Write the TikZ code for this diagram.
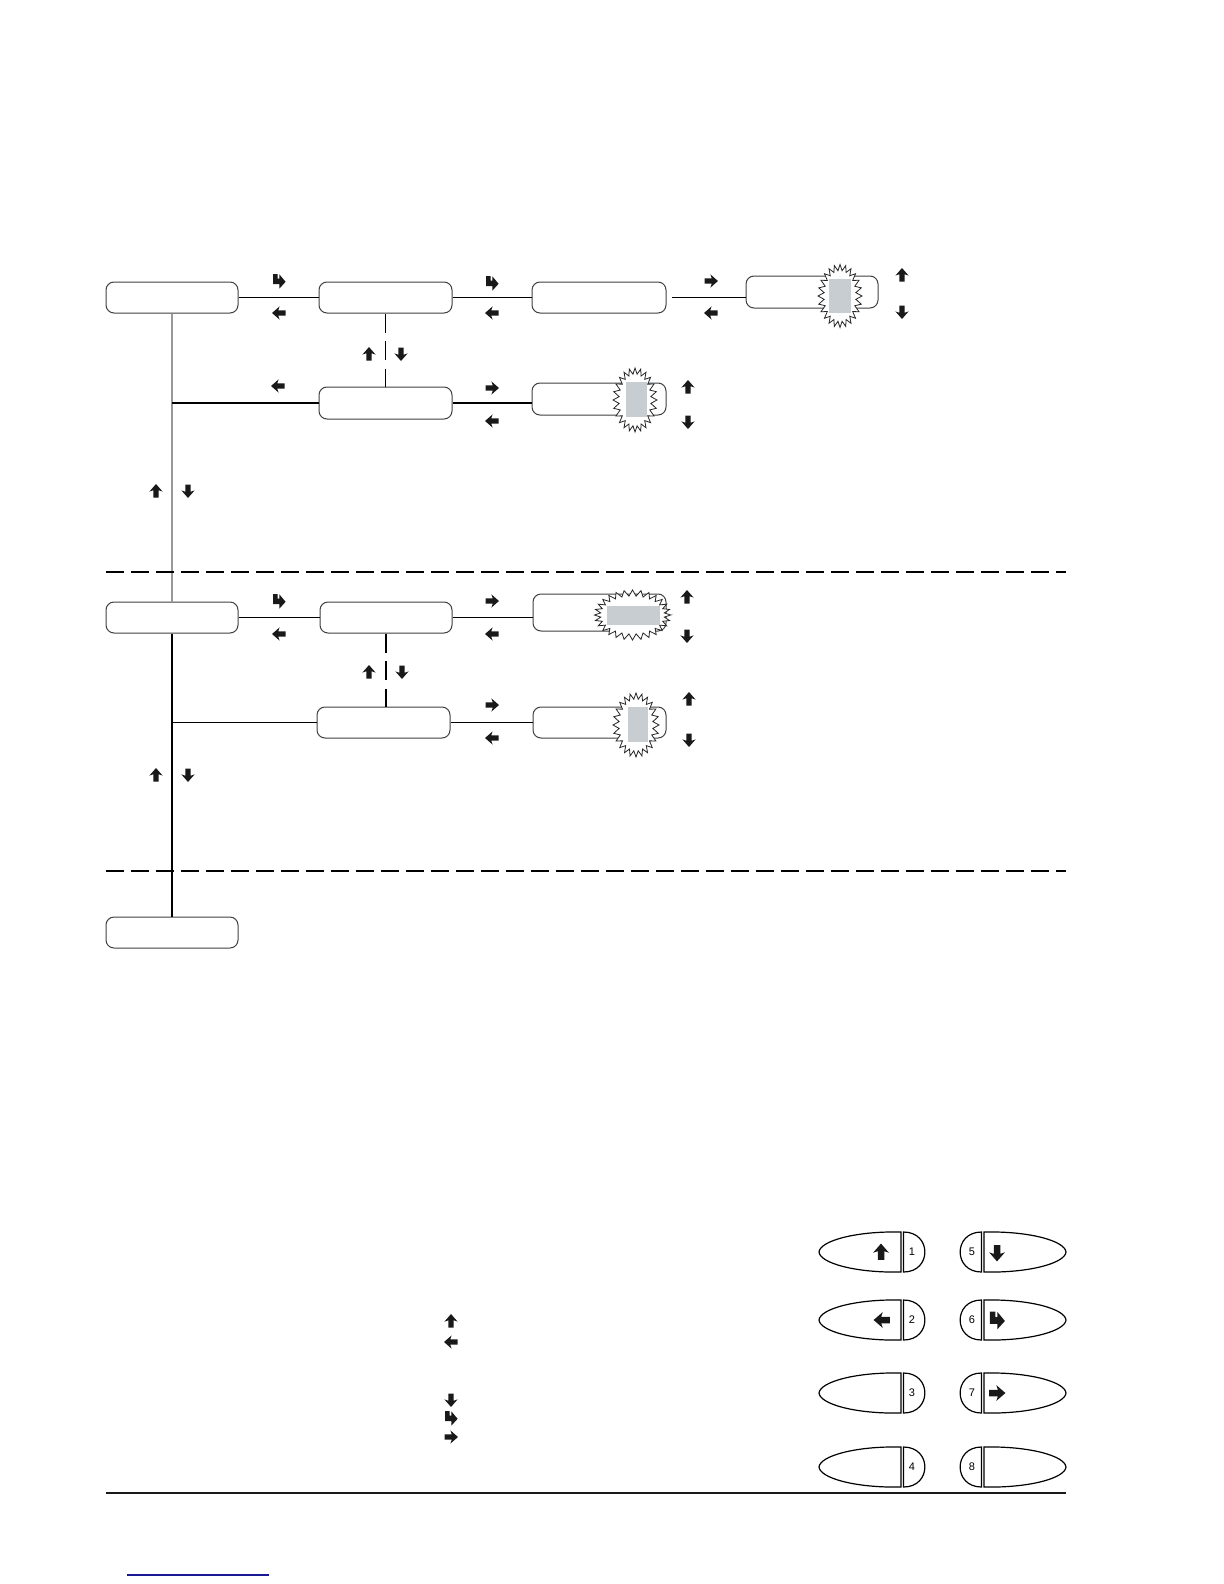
\documentclass[tikz,border=0pt]{standalone}
\usepackage{fontspec}
\setmainfont{Liberation Sans}
\usetikzlibrary{calc}
\definecolor{shade}{RGB}{200,205,210}
\definecolor{linkblue}{RGB}{25,25,150}
\newcommand\mkburst[5]{%
  \filldraw[burstline] ({#1+#3},#2) \foreach \k in {1,...,#5}{ -- ({#1+(#3-6*mod(\k,2))*cos(\k*(360/#5))},{#2+(#4-6*mod(\k,2))*sin(\k*(360/#5))}) } -- cycle;}
\begin{document}
\begin{tikzpicture}[x=0.5pt,y=-0.5pt,
  box/.style={draw=black!75,line width=0.5pt,rounded corners=4pt,inner sep=0pt,fill=white},
  conn/.style={line width=0.6pt,black},
  fadeconn/.style={line width=0.6pt,black!40},
  vdash/.style={line width=0.6pt,black,dash pattern=on 9.5pt off 4.25pt},
  hdash/.style={line width=0.6pt,black,dash pattern=on 9pt off 3.5pt},
  burstline/.style={draw=black!85,line width=0.4pt,fill=white},
  shadebox/.style={fill=shade},
  keyline/.style={draw=black,line width=0.6pt,fill=white},
  keynum/.style={inner sep=0pt,font=\fontsize{5.5}{6}\selectfont},
  uparr/.pic={\fill[black!90] (0,-7) -- (6.6,0.6) -- (2.7,-0.7) -- (2.7,6.5) -- (-2.7,6.5) -- (-2.7,-0.7) -- (-6.6,0.6) -- cycle;},
  entarr/.pic={\fill[black!90] (-6,-7) -- (-1.4,-7) -- (-1.4,-2.4) -- (0.4,-2.4) -- (0.4,-6.6) -- (6.6,0.8) -- (0.4,7.6) -- (0.4,3.2) -- (-6,3.2) -- cycle;}
]
\useasboundingbox (0,0) rectangle (1224,1584);

% ---------- boxes ----------
\node[box,minimum width=66pt,minimum height=15.5pt] (A) at (172,297.5) {};
\node[box,minimum width=66.5pt,minimum height=15.5pt] (B) at (385.5,297.5) {};
\node[box,minimum width=67pt,minimum height=15.5pt] (B2) at (599,297.5) {};
\node[box,minimum width=66pt,minimum height=16pt] (G) at (812,292) {};
\node[box,minimum width=66.5pt,minimum height=16pt] (C) at (385.5,403) {};
\node[box,minimum width=67pt,minimum height=16pt] (C2) at (599,399) {};
\node[box,minimum width=66pt,minimum height=15.5pt] (D) at (172,617.5) {};
\node[box,minimum width=66pt,minimum height=15.5pt] (E) at (386,617.5) {};
\node[box,minimum width=66.5pt,minimum height=18.5pt] (F) at (599.5,612.5) {};
\node[box,minimum width=66.5pt,minimum height=15.5pt] (H) at (383.5,722.5) {};
\node[box,minimum width=66.5pt,minimum height=15.5pt] (I) at (599.5,722.5) {};
\node[box,minimum width=66pt,minimum height=15.5pt] (J) at (172,932.5) {};

% ---------- connectors ----------
\draw[conn] (A.east) -- (B.west);
\draw[conn] (B.east) -- (B2.west);
\draw[conn] ([xshift=2.5pt]B2.east) -- (G.west |- B2.east);
\draw[conn] (C.east) -- (C2.west |- C.east);
\draw[conn] (D.east) -- (E.west);
\draw[conn] (E.east) -- (F.west |- E.east);
\draw[conn] (H.east) -- (I.west);
\draw[fadeconn] (A.south) -- (D.north);
\draw[conn] (A.south |- C.west) -- (C.west);
\draw[conn] (D.south) -- (J.north);
\draw[conn] (D.south |- H.west) -- (H.west);
\draw[vdash] (B.south) -- (B.south |- C.north);
\draw[vdash] (E.south) -- (E.south |- H.north);

% ---------- separators ----------
\coordinate (s1a) at (106,572); \coordinate (s1b) at (1066,572);
\coordinate (s2a) at (106,871); \coordinate (s2b) at (1066,871);
\draw[hdash] (s1a) -- (s1b);
\draw[hdash] (s2a) -- (s2b);

% ---------- bursts ----------
\mkburst{840}{296}{22}{31.5}{48}
\fill[shadebox] (829,279) rectangle (851,313);
\mkburst{635}{400}{22}{32}{48}
\fill[shadebox] (626,382) rectangle (647,417);
\mkburst{632.5}{615}{38}{25}{56}
\fill[shadebox] (607,606) rectangle (660,625);
\mkburst{636}{725}{23}{32}{48}
\fill[shadebox] (628,707) rectangle (648,742);

% ---------- arrow glyphs in diagram ----------
\pic at (279,281) {entarr};
\pic[rotate=90] at (279,313) {uparr};
\pic at (492,283) {entarr};
\pic[rotate=90] at (492,313) {uparr};
\pic[rotate=-90] at (711,281) {uparr};
\pic[rotate=90] at (711,313) {uparr};
\pic at (902,275) {uparr};
\pic[rotate=180] at (902,312) {uparr};
\pic at (369,354) {uparr};
\pic[rotate=180] at (401,354) {uparr};
\pic[rotate=90] at (278,386) {uparr};
\pic[rotate=-90] at (492,388) {uparr};
\pic[rotate=90] at (492,421) {uparr};
\pic at (688,387) {uparr};
\pic[rotate=180] at (688,422) {uparr};
\pic at (156,491) {uparr};
\pic[rotate=180] at (188,491) {uparr};
\pic at (279,601) {entarr};
\pic[rotate=90] at (279,634) {uparr};
\pic[rotate=-90] at (492,601) {uparr};
\pic[rotate=90] at (492,634) {uparr};
\pic at (687,597) {uparr};
\pic[rotate=180] at (687,636) {uparr};
\pic at (369,672) {uparr};
\pic[rotate=180] at (402,672) {uparr};
\pic[rotate=-90] at (492,705) {uparr};
\pic[rotate=90] at (492,738) {uparr};
\pic at (689,699) {uparr};
\pic[rotate=180] at (689,740) {uparr};
\pic at (156,775) {uparr};
\pic[rotate=180] at (188,775) {uparr};

% ---------- legend arrows ----------
\pic at (451,1321) {uparr};
\pic[rotate=90] at (451,1342) {uparr};
\pic[rotate=180] at (451,1400) {uparr};
\pic at (451,1418) {entarr};
\pic[rotate=-90] at (451,1437) {uparr};

% ---------- keys ----------
\foreach \cy/\n in {1252/1,1320/2,1393/3,1467/4}{
  \draw[keyline] (901,\cy-20) .. controls (855,\cy-21) and (820,\cy-11) .. (819,\cy) .. controls (820,\cy+11) and (855,\cy+21) .. (901,\cy+20) -- cycle;
  \draw[keyline] (903.5,\cy-20) .. controls (932,\cy-20) and (932,\cy+20) .. (903.5,\cy+20) -- cycle;
  \node[keynum] (k\n) at (912,\cy) {\n};
}
\foreach \cy/\n in {1252/5,1320/6,1393/7,1467/8}{
  \draw[keyline] (984,\cy-20) .. controls (1030,\cy-21) and (1065,\cy-11) .. (1066,\cy) .. controls (1065,\cy+11) and (1030,\cy+21) .. (984,\cy+20) -- cycle;
  \draw[keyline] (981.5,\cy-20) .. controls (953,\cy-20) and (953,\cy+20) .. (981.5,\cy+20) -- cycle;
  \node[keynum] (k\n) at (972,\cy) {\n};
}
\pic[scale=1.2] at (881,1252) {uparr};
\pic[scale=1.2,rotate=90] at (882,1320) {uparr};
\pic[scale=1.2,rotate=180] at (997,1253) {uparr};
\pic[scale=1.2] at (997,1320) {entarr};
\pic[scale=1.2,rotate=-90] at (997,1393) {uparr};

% ---------- rules ----------
\coordinate (r1) at (106,1493); \coordinate (r2) at (1066,1493);
\draw[line width=0.8pt,black!90] (r1) -- (r2);
\coordinate (u1) at (127,1575); \coordinate (u2) at (269,1575);
\draw[line width=0.8pt,linkblue] (u1) -- (u2);
\end{tikzpicture}
\end{document}
